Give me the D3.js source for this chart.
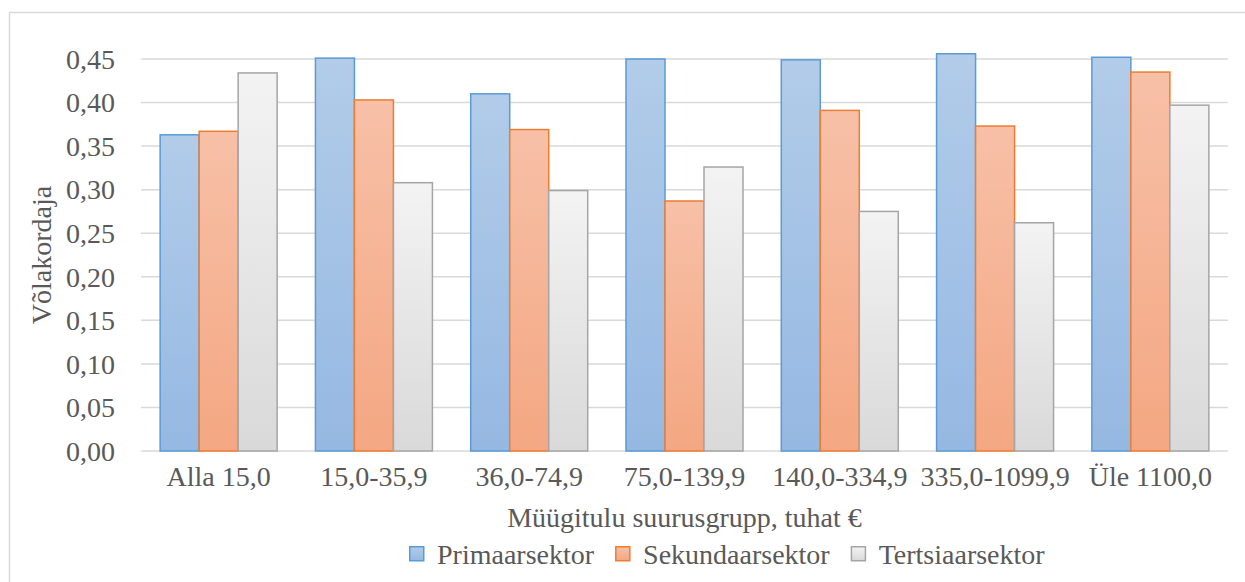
<!DOCTYPE html>
<html lang="et">
<head>
<meta charset="utf-8">
<script src="https://cdn.jsdelivr.net/npm/d3@7"></script>
<style>
  html, body { margin: 0; padding: 0; background: #fff; }
  svg { display: block; }
  text { font-family: "Liberation Serif", "DejaVu Serif", serif; fill: #595959; }
</style>
</head>
<body>
<svg id="chart" width="1245" height="582"></svg>
<script>
// Võlakordaja müügitulu suurusgruppide ja sektorite lõikes
const categories = ["Alla 15,0", "15,0-35,9", "36,0-74,9", "75,0-139,9", "140,0-334,9", "335,0-1099,9", "Üle 1100,0"];
const seriesNames = ["Primaarsektor", "Sekundaarsektor", "Tertsiaarsektor"];
const primaar   = [0.363, 0.451, 0.410, 0.450, 0.449, 0.456, 0.452];
const sekundaar = [0.367, 0.403, 0.369, 0.287, 0.391, 0.373, 0.435];
const tertsiaar = [0.434, 0.308, 0.299, 0.326, 0.275, 0.262, 0.397];
const yTicks = [0, 0.05, 0.10, 0.15, 0.20, 0.25, 0.30, 0.35, 0.40, 0.45];
const xTitle = "Müügitulu suurusgrupp, tuhat €";
const yTitle = "Võlakordaja";

const seriesValues = [primaar, sekundaar, tertsiaar];
const styles = [
  { stroke: "#5B9BD5", top: "#B2CCE9", bottom: "#95B8E2" },
  { stroke: "#ED7D31", top: "#F7C0A7", bottom: "#F4A782" },
  { stroke: "#A5A5A5", top: "#F3F3F3", bottom: "#D9D9D9" }
];
const fontSize = "28px";

const svg = d3.select("#chart");
const plot = { left: 141, right: 1228, top: 59, bottom: 451 };

// Outer chart border (left and top edges visible)
svg.append("rect")
  .attr("x", 9.5).attr("y", 12.5)
  .attr("width", 1400).attr("height", 700)
  .attr("fill", "none").attr("stroke", "#D9D9D9").attr("stroke-width", 1.5);

// Gradients for bars
const defs = svg.append("defs");
styles.forEach((s, i) => {
  const g = defs.append("linearGradient")
    .attr("id", "grad" + i)
    .attr("x1", 0).attr("y1", 0).attr("x2", 0).attr("y2", 1);
  g.append("stop").attr("offset", "0%").attr("stop-color", s.top);
  g.append("stop").attr("offset", "100%").attr("stop-color", s.bottom);
});

const x0 = d3.scaleBand()
  .domain(categories)
  .range([plot.left, plot.right])
  .paddingInner(0.2466)
  .paddingOuter(0.1233);

const x1 = d3.scaleBand()
  .domain(seriesNames)
  .range([0, x0.bandwidth()])
  .padding(0);

const y = d3.scaleLinear()
  .domain([0, 0.45])
  .range([plot.bottom, plot.top]);

const locale = d3.formatLocale({ decimal: ",", thousands: " ", grouping: [3], currency: ["", " €"] });
const fmt = locale.format(".2f");

// Gridlines
svg.append("g")
  .selectAll("line")
  .data(yTicks)
  .join("line")
  .attr("x1", plot.left).attr("x2", plot.right)
  .attr("y1", d => y(d)).attr("y2", d => y(d))
  .attr("stroke", "#D9D9D9").attr("stroke-width", 1.5);

// Y axis labels
const yAxis = d3.axisLeft(y).tickValues(yTicks).tickFormat(fmt).tickSize(0).tickPadding(0);
const yg = svg.append("g").attr("transform", `translate(${plot.left - 26},0)`).call(yAxis);
yg.select(".domain").remove();
yg.selectAll("text")
  .attr("font-family", null)
  .style("font-size", fontSize)
  .attr("fill", "#595959")
  .attr("dy", "0.33em");

// Bars
const groups = svg.append("g")
  .selectAll("g")
  .data(categories)
  .join("g")
  .attr("transform", d => `translate(${x0(d)},0)`);

groups.selectAll("rect")
  .data((c, ci) => seriesNames.map((s, si) => ({ s, si, v: seriesValues[si][ci] })))
  .join("rect")
  .attr("x", d => x1(d.s))
  .attr("width", x1.bandwidth())
  .attr("y", d => y(d.v))
  .attr("height", d => y(0) - y(d.v))
  .attr("fill", d => `url(#grad${d.si})`)
  .attr("stroke", d => styles[d.si].stroke)
  .attr("stroke-width", 1.5);

// X axis labels
const xAxis = d3.axisBottom(x0).tickSize(0).tickPadding(0);
const xg = svg.append("g").attr("transform", `translate(0,${plot.bottom})`).call(xAxis);
xg.select(".domain").remove();
xg.selectAll("text")
  .attr("font-family", null)
  .style("font-size", fontSize)
  .attr("fill", "#595959")
  .attr("y", 35)
  .attr("dy", null);

// Axis titles
svg.append("text")
  .attr("x", (plot.left + plot.right) / 2)
  .attr("y", 527)
  .attr("text-anchor", "middle")
  .style("font-size", fontSize)
  .text(xTitle);

svg.append("text")
  .attr("transform", `translate(51,${(plot.top + plot.bottom) / 2}) rotate(-90)`)
  .attr("text-anchor", "middle")
  .style("font-size", fontSize)
  .text(yTitle);

// Legend
const legend = svg.append("g");
let lx = 409;
seriesNames.forEach((name, i) => {
  legend.append("rect")
    .attr("x", lx + 0.75).attr("y", 546.75)
    .attr("width", 14).attr("height", 14)
    .attr("fill", `url(#grad${i})`)
    .attr("stroke", styles[i].stroke)
    .attr("stroke-width", 1.5);
  const t = legend.append("text")
    .attr("x", lx + 28)
    .attr("y", 564)
    .style("font-size", fontSize)
    .text(name);
  lx += 28 + t.node().getComputedTextLength() + 21;
});
</script>
</body>
</html>
